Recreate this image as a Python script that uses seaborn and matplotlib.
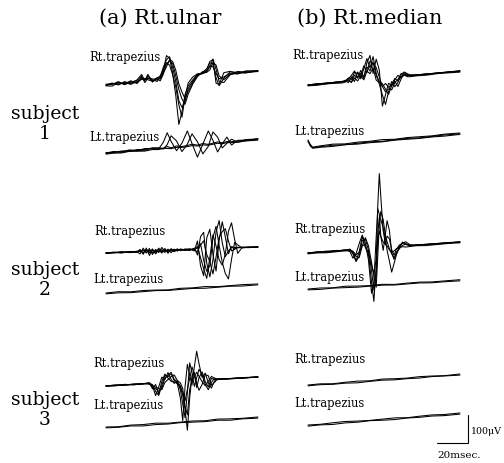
import matplotlib
matplotlib.use("Agg")
import matplotlib.pyplot as plt
import matplotlib.transforms as mtransforms
import pandas as pd
import seaborn as sns

# ---------------------------------------------------------------------------
# Averaged sweeps, time in ms from sweep start, amplitude in microvolts
# relative to each channel's own baseline.
# ---------------------------------------------------------------------------

# Subject 1, Rt. ulnar stimulation, Rt. trapezius
s1_uln_rt_t = [0, 4, 8, 12, 16, 20, 23, 25, 27, 30, 33, 35, 37, 39, 41, 43, 45, 47,
               49, 51, 53, 56, 59, 62, 65, 67, 69, 71, 73, 76, 80, 85, 90, 98]
s1_uln_rt = [
    [0, 5, -4, 6, -3, 8, 26, 2, 24, -5, 10, 4, 30, 85, 75, 20, -60, -165,
     -120, -60, -30, -10, 8, 10, 20, 50, 55, -30, -35, 5, 8, -3, 4, 0],
    [-3, -6, 5, -2, 7, -5, 12, 6, 18, 3, -4, 12, 45, 70, 80, 40, -10, -80,
     -105, -85, -40, -15, 5, 12, 25, 45, 40, -10, -40, -15, 6, 2, -2, 2],
    [3, 0, 8, -5, 2, 6, 20, -4, 10, 6, 5, -3, 20, 55, 65, 55, 10, -40,
     -75, -95, -60, -25, 0, 15, 18, 30, 58, 20, -25, -30, -5, 5, 0, -2],
    [0, 3, -2, 3, -6, 2, 8, 10, 5, -2, 8, 15, 35, 60, 50, 15, -30, -95,
     -140, -70, -20, 0, 10, 8, 15, 35, 30, 5, -15, -10, 0, -4, 3, 1],
    [-2, 2, 3, -3, 4, -2, 15, 8, 12, 0, 2, 6, 25, 45, 70, 62, 30, -20,
     -50, -75, -50, -20, 3, 10, 12, 20, 45, 35, -5, -20, -3, 0, -3, 0],
]

# Subject 1, Rt. ulnar stimulation, Lt. trapezius
s1_uln_lt_t = [0, 5, 10, 15, 20, 25, 30, 34, 37, 39.5, 42, 45.5, 49, 52.5, 55.5,
               59, 62.5, 66, 69, 72, 75, 78, 81, 85, 90, 98]
s1_uln_lt = [
    [0, 3, -3, 2, -2, 3, 0, -3, 20, 52, 20, -15, 10, 52, 5, -45, 0, 45, 10,
     -33, -5, 17, -13, 2, 0, 0],
    [-2, 0, 2, -2, 2, 0, 3, 0, -5, 10, 40, 20, -20, 5, 40, 10, -35, -10, 40,
     20, -20, -5, 8, -5, 2, 0],
    [2, -2, 0, 3, -1, -3, 2, 1, -2, 3, -3, 2, -2, 0, 3, -2, 2, -3, 0, 3, -2,
     1, -1, 0, -2, 1],
    [-4, -3, -5, -2, -4, -6, -3, -5, -2, -4, -6, -3, -5, -4, -2, -5, -3, -6,
     -4, -2, -5, -3, -4, -5, -3, -4],
]

# Subject 1, Rt. median stimulation, Rt. trapezius
s1_med_rt_t = [0, 6, 12, 18, 22, 24, 26, 28, 30, 32, 34, 36, 38, 40, 42, 44, 46,
               48, 50, 52, 54, 56, 58, 60, 62, 64, 66, 70, 76, 84, 92, 98]
s1_med_rt = [
    [0, 2, -2, 2, 0, 3, 8, 20, 35, 10, 25, 5, 60, 85, 20, 70, 30, -100, -60,
     -20, -30, -10, 5, -5, 3, 0, 2, 0, -1, 1, 0, 0],
    [-2, 0, 2, -1, 2, 0, 12, 5, 30, 25, 5, 40, 75, 40, 80, 20, -20, -60, -95,
     -50, -15, -35, -20, 5, 8, 2, 0, 1, 0, -1, 1, 0],
    [1, -2, 0, 1, -1, 5, -5, 15, -3, 30, 15, 50, 25, 65, 55, 40, 5, -30, -50,
     -40, -45, -20, -10, 10, 12, 5, -1, 0, 1, 0, -1, 0],
    [0, 1, -1, 0, 1, 2, 6, -4, 20, 8, 35, 10, 45, 30, 60, 10, -10, -20, -40,
     -60, -30, -15, -35, -10, 15, 8, 2, -1, 0, 0, 0, 0],
    [-3, -4, -2, -3, -4, -2, 3, -5, 10, -2, 15, 0, 30, 20, 40, -5, -15, -30,
     -20, -35, -25, -5, -15, -2, 5, -3, -4, -3, -4, -2, -3, -4],
]

# Subject 1, Rt. median stimulation, Lt. trapezius (stimulus artefact hook only)
s1_med_lt_t = [0, 1.5, 3, 8, 16, 24, 32, 40, 48, 56, 64, 72, 80, 88, 98]
s1_med_lt = [
    [25, 8, -2, 0, 2, -1, 1, 0, 2, -1, 1, 0, -1, 1, 0],
    [20, 5, -4, -3, -2, -4, -3, -2, -4, -3, -2, -4, -3, -2, -3],
    [22, 3, -6, -5, -6, -4, -6, -5, -6, -4, -5, -6, -5, -6, -5],
]

# Subject 2, Rt. ulnar stimulation, Rt. trapezius
s2_uln_rt_t = [0, 5, 10, 15, 20, 22, 24, 26, 28, 30, 32, 34, 36, 38, 40, 42, 44,
               46, 48, 51, 54, 57, 59, 61, 63, 65, 67, 69, 71, 73, 75, 77, 79, 81,
               83, 85, 88, 92, 98]
s2_uln_rt = [
    [0, 2, -2, 1, -2, 8, -10, 12, -15, 5, -8, 10, -5, 8, -10, 6, -4, 5, -2,
     3, 2, -5, 30, -60, -95, 40, 70, -20, -80, 30, 95, 40, -20, 5, 2, 0, 1, -1, 0],
    [-2, 0, 3, -2, 0, -8, 12, -6, 10, -12, 6, -6, 12, -3, 5, -8, 3, -3, 4,
     0, -3, 5, -20, 45, 60, -50, -100, -40, 60, 100, 20, -30, -10, 3, -2, 1, 0, 1, 0],
    [1, -1, 0, 2, -1, 3, -5, 6, -3, 8, -10, 4, -8, 3, -4, 2, -5, 2, -1,
     2, 0, 3, 10, -30, -70, -105, -30, 50, 10, -40, -60, -20, 60, 90, 30, -20, 2, 0, 0],
    [0, 1, -1, 0, 2, 0, 5, -3, 4, -5, 3, -2, 4, -6, 2, -2, 4, -2, 1,
     -2, 1, 0, 5, 20, -40, -80, -60, 40, 80, 10, -50, -90, -110, -40, 20, 10, -1, 0, 0],
    [-1, 1, 0, -1, 1, 5, -4, 4, -6, 2, -3, 6, -2, 1, -3, 5, -1, 0, 2,
     -1, 3, -2, -8, 15, 30, -20, -45, -90, -30, 40, 60, 70, 25, -10, -5, 2, 0, 1, 0],
]

# Subject 2, Rt. median stimulation, Rt. trapezius
s2_med_rt_t = [0, 6, 12, 18, 24, 27, 29, 31, 33, 35, 37, 39, 41, 42.5, 44, 45, 46,
               47, 48.5, 50, 51, 52.5, 54, 55.5, 57, 59, 61, 63, 66, 70, 76, 84, 92, 98]
s2_med_rt = [
    [0, 2, -1, 1, 0, 3, -10, -40, -10, 45, 5, -20, -120, -190, -60, 150, 265,
     180, 60, 10, 40, 30, -10, -30, -10, 5, 10, 15, 2, 0, 1, 0, -1, 0],
    [-1, 0, 2, -1, 2, -5, -30, -15, 20, 50, 20, -40, -160, -120, 40, 140, 120,
     40, -10, 50, 95, 60, -20, -45, -25, -5, 15, 5, 0, 1, -1, 1, 0, 0],
    [1, -1, 0, 2, -1, 0, -15, -43, -25, 30, 35, -5, -80, -150, -100, 50, 110,
     100, 70, 30, -10, -50, -90, -60, -30, 0, 12, 8, -1, 0, 0, 0, 1, 0],
    [0, 1, -1, 0, 1, 2, -8, -25, -30, 10, 40, 10, -50, -100, -140, -30, 80,
     130, 100, 40, 20, -5, -25, -40, -20, -8, 3, 6, 2, 0, 0, -1, 0, 0],
    [-3, -2, -4, -3, -2, -3, -5, -20, -10, 15, 10, -15, -60, -90, -40, 30, 60,
     40, 20, 10, 5, -10, -20, -15, -8, -3, -2, -4, -3, -2, -4, -3, -2, -3],
]

# Subject 3, Rt. ulnar stimulation, Rt. trapezius
s3_uln_rt_t = [0, 6, 12, 18, 24, 28, 30, 32, 34, 36, 38, 40, 42, 44, 46, 48, 49.5,
               51, 52.5, 54, 55.5, 57, 58.5, 60, 62, 64, 66, 68, 70, 72, 76, 82, 90, 98]
s3_uln_rt = [
    [0, 2, -1, 1, -1, 2, -20, -5, -40, 5, 30, 15, 3, 0, -5, -60, -140, -20,
     60, 20, -15, 50, 105, 60, 10, 25, -10, -30, -5, 2, 0, 1, 0, 0],
    [-1, 0, 2, -2, 1, -3, -10, -45, -15, 20, 10, 35, 10, -5, 2, -30, -80,
     -130, -40, 65, 30, -20, 10, 40, 20, -15, -35, -10, 5, 0, 1, 0, -1, 0],
    [1, -1, 0, 1, 0, 0, -5, -30, -45, -10, 25, 20, 30, 5, -8, -20, -50,
     -100, -175, -60, 20, 30, -10, -35, -15, 20, 15, -20, -10, 2, 0, 0, 1, 0],
    [0, 1, -1, 0, 1, 1, -15, -20, -30, -20, 15, 25, 35, 10, 0, -15, -40,
     -70, -30, 10, 50, 20, -25, 10, 30, -5, -25, 5, 0, -1, 0, 0, 0, 0],
    [0, -1, 1, -1, 0, 2, -8, -15, -20, -25, 0, 10, 20, 25, 5, -5, -25,
     -90, -120, -30, 5, 15, 30, 15, -5, -20, -5, 12, 5, 0, 0, -1, 0, 0],
]

# Channels without a response
quiet_t = [0, 8, 16, 24, 32, 40, 48, 56, 64, 72, 80, 88, 98]
s2_uln_lt = [
    [0, 2, -1, 1, 0, -2, 1, 0, 2, -1, 0, 1, 0],
    [-3, -2, -4, -3, -2, -4, -3, -2, -4, -3, -2, -4, -3],
]
s2_med_lt = [
    [0, 1, -1, 2, 0, -1, 1, -2, 0, 1, -1, 0, 1],
    [-3, -4, -2, -3, -4, -3, -2, -4, -3, -2, -4, -3, -3],
]
s3_uln_lt = [
    [0, -2, 1, 0, 2, -1, 0, 1, -1, 2, 0, -1, 0],
    [-3, -4, -2, -5, -3, -4, -2, -3, -4, -2, -5, -3, -4],
]
s3_med_rt = [
    [0, 1, -2, 0, 1, -1, 2, 0, -1, 1, 0, -2, 0],
    [-3, -2, -4, -3, -5, -3, -2, -4, -3, -4, -2, -3, -4],
]
s3_med_lt = [
    [0, -1, 1, 2, 0, -1, 0, 1, -2, 0, 1, -1, 0],
    [-4, -3, -5, -3, -4, -2, -4, -5, -3, -4, -3, -5, -4],
]

column_titles = ["(a) Rt.ulnar", "(b) Rt.median"]
subject_labels = ["subject\n1", "subject\n2", "subject\n3"]
channel_labels = ["Rt.trapezius", "Lt.trapezius"]
scale_ms = 20
scale_uv = 100
sweep_ms = 98

# ---------------------------------------------------------------------------
# Page geometry (pixels on the 504 x 463 page) and recorder scale
# ---------------------------------------------------------------------------
W, H = 504, 463
PX_PER_MS = 1.55
PX_PER_UV = 0.28

# (time samples, sweeps, start x, start y, baseline drift over the sweep in px)
channels = [
    (s1_uln_rt_t, s1_uln_rt, 106, 85, 14),
    (s1_uln_lt_t, s1_uln_lt, 106, 153, 14),
    (s1_med_rt_t, s1_med_rt, 308, 85, 14),
    (s1_med_lt_t, s1_med_lt, 308, 147, 14),
    (s2_uln_rt_t, s2_uln_rt, 106, 253, 6),
    (quiet_t, s2_uln_lt, 106, 293, 9),
    (s2_med_rt_t, s2_med_rt, 308, 253, 11),
    (quiet_t, s2_med_lt, 308, 289, 9),
    (s3_uln_rt_t, s3_uln_rt, 106, 386, 9),
    (quiet_t, s3_uln_lt, 106, 427, 10),
    (quiet_t, s3_med_rt, 308, 385, 11),
    (quiet_t, s3_med_lt, 308, 425, 12),
]

label_pos = [
    (89, 58, 0), (89, 137, 1), (292, 55, 0), (294, 131, 1),
    (94, 232, 0), (93, 279, 1), (294, 229, 0), (294, 277, 1),
    (93, 363, 0), (93, 406, 1), (294, 360, 0), (294, 403, 1),
]

sns.set_theme(style="white")
plt.rcParams["font.family"] = ["DejaVu Serif"]
plt.rcParams["text.color"] = "black"

fig = plt.figure(figsize=(W / 100, H / 100), dpi=100)
ax = fig.add_axes([0, 0, 1, 1])


def data_xy(px, py):
    return px / PX_PER_MS, (H - py) / PX_PER_UV


for t, sweeps, px0, py0, drift_px in channels:
    rows = [(ti, vi, k) for k, sw in enumerate(sweeps) for ti, vi in zip(t, sw)]
    df = pd.DataFrame(rows, columns=["t", "v", "sweep"])
    x0, y0 = data_xy(px0, py0)
    slope = (drift_px / PX_PER_UV) / sweep_ms
    tr = mtransforms.Affine2D.from_values(1, slope, 0, 1, x0, y0) + ax.transData
    sns.lineplot(data=df, x="t", y="v", units="sweep", estimator=None,
                 sort=False, color="black", linewidth=0.75, legend=False,
                 ax=ax, transform=tr)

ax.set_xlim(0, W / PX_PER_MS)
ax.set_ylim(0, H / PX_PER_UV)
ax.axis("off")

# calibration bar: 20 ms by 100 uV
cx, cy = data_xy(468, 443)
ax.plot([cx - scale_ms, cx, cx], [cy, cy, cy + scale_uv], color="black",
        linewidth=0.8, solid_joinstyle="miter")

# text
for s, cxp in zip(column_titles, [160, 370]):
    fig.text(cxp / W, 1 - 18 / H, s, ha="center", va="center", fontsize=15,
             color="black")

for s, cyp in zip(subject_labels, [124, 280, 410]):
    fig.text(45 / W, 1 - cyp / H, s, ha="center", va="center", fontsize=13.5,
             linespacing=1.15, color="black")

for px, py, k in label_pos:
    fig.text(px / W, 1 - py / H, channel_labels[k], ha="left", va="center",
             fontsize=8.3, color="black")

fig.text(471 / W, 1 - 432 / H, "100\u03bcV", ha="left", va="center",
         fontsize=6.8, color="black")
fig.text(437 / W, 1 - 455 / H, "20msec.", ha="left", va="center",
         fontsize=7.5, color="black")

fig.savefig("out.png", dpi=100, facecolor="white")
